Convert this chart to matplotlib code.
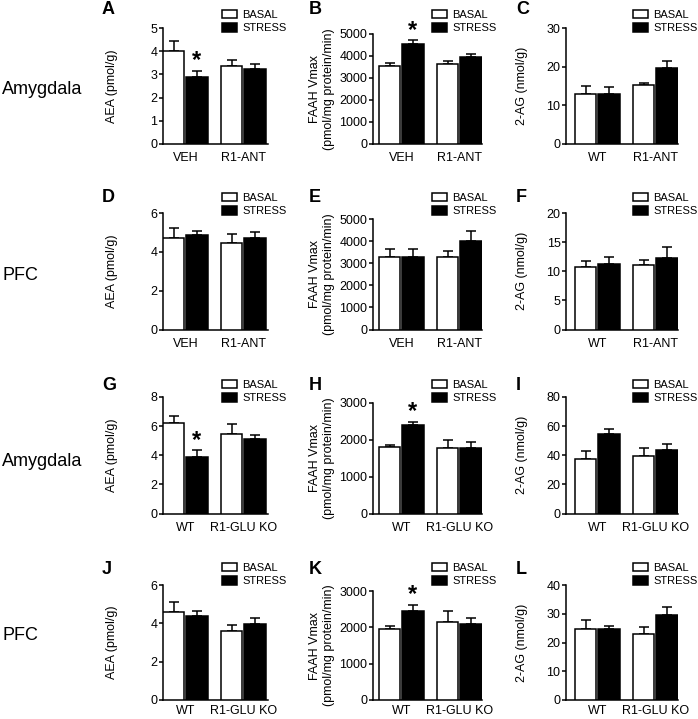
import matplotlib.pyplot as plt
import numpy as np

plt.rcParams["font.family"] = ["Liberation Sans", "DejaVu Sans"]

# ---- data ----
letters = ["A", "B", "C", "D", "E", "F", "G", "H", "I", "J", "K", "L"]

groups_veh = ["VEH", "R1-ANT"]
groups_ant = ["WT", "R1-ANT"]
groups_glu = ["WT", "R1-GLU KO"]

A_basal, A_basal_err = [4.0, 3.35], [0.42, 0.27]
A_stress, A_stress_err = [2.9, 3.25], [0.26, 0.18]
B_basal, B_basal_err = [3550, 3650], [140, 120]
B_stress, B_stress_err = [4550, 3950], [160, 140]
C_basal, C_basal_err = [12.9, 15.3], [2.2, 0.6]
C_stress, C_stress_err = [12.9, 19.6], [1.8, 1.9]

D_basal, D_basal_err = [4.7, 4.45], [0.52, 0.48]
D_stress, D_stress_err = [4.85, 4.73], [0.2, 0.29]
E_basal, E_basal_err = [3300, 3270], [330, 290]
E_stress, E_stress_err = [3260, 4000], [380, 450]
F_basal, F_basal_err = [10.7, 11.0], [1.1, 1.0]
F_stress, F_stress_err = [11.3, 12.3], [1.2, 1.85]

G_basal, G_basal_err = [6.22, 5.46], [0.48, 0.7]
G_stress, G_stress_err = [3.89, 5.1], [0.45, 0.32]
H_basal, H_basal_err = [1810, 1790], [45, 200]
H_stress, H_stress_err = [2400, 1780], [90, 150]
I_basal, I_basal_err = [37.5, 39.5], [5.7, 5.8]
I_stress, I_stress_err = [54.9, 43.7], [2.8, 3.9]

J_basal, J_basal_err = [4.57, 3.62], [0.52, 0.31]
J_stress, J_stress_err = [4.39, 3.98], [0.26, 0.29]
K_basal, K_basal_err = [1963, 2147], [75, 300]
K_stress, K_stress_err = [2450, 2083], [165, 183]
L_basal, L_basal_err = [24.55, 22.9], [3.45, 2.5]
L_stress, L_stress_err = [24.55, 29.7], [1.15, 2.5]

basal = [A_basal, B_basal, C_basal, D_basal, E_basal, F_basal,
         G_basal, H_basal, I_basal, J_basal, K_basal, L_basal]
basal_err = [A_basal_err, B_basal_err, C_basal_err, D_basal_err, E_basal_err, F_basal_err,
             G_basal_err, H_basal_err, I_basal_err, J_basal_err, K_basal_err, L_basal_err]
stress = [A_stress, B_stress, C_stress, D_stress, E_stress, F_stress,
          G_stress, H_stress, I_stress, J_stress, K_stress, L_stress]
stress_err = [A_stress_err, B_stress_err, C_stress_err, D_stress_err, E_stress_err, F_stress_err,
              G_stress_err, H_stress_err, I_stress_err, J_stress_err, K_stress_err, L_stress_err]

group_labels = [groups_veh, groups_veh, groups_ant,
                groups_veh, groups_veh, groups_ant,
                groups_glu, groups_glu, groups_glu,
                groups_glu, groups_glu, groups_glu]

ylabels = ["AEA (pmol/g)", "FAAH Vmax\n(pmol/mg protein/min)", "2-AG (nmol/g)"]
ymax = [5, 5000, 30, 6, 5000, 20, 8, 3000, 80, 6, 3000, 40]
ystep = [1, 1000, 10, 2, 1000, 5, 2, 1000, 20, 2, 1000, 10]
starred = ["A", "B", "G", "H", "K"]
regions = ["Amygdala", "PFC", "Amygdala", "PFC"]

# ---- layout in pixels ----
W, H = 698, 719
ppu = 58
col_left = [163, 373, 566]
pad_l = [0, 6, 9]
pad_r = [2, 0, 0]
row_top = [28, 213, 397, 585]
row_bot = [144, 329.5, 513.5, 700]
col_top_shift = [0, 6, 0]
ylab_dx = [51, 51, 44]
letter_x = [102, 309, 516]
letter_y = [9, 198, 385, 570]
legend_dx = [59, 59, 67]
legend_top = [10, 193, 380, 563]
region_y = [89, 276, 461, 635]
xpad = [6, 6, 6, 3.5]

fig = plt.figure(figsize=(W / 100, H / 100), dpi=100)

bw = 0.37
off = 0.2
x = np.arange(2)

for i, letter in enumerate(letters):
    r, c = divmod(i, 3)
    x0 = -off - bw / 2 - pad_l[c] / ppu
    x1 = 1 + off + bw / 2 + pad_r[c] / ppu
    wpx = (x1 - x0) * ppu
    top = row_top[r] + col_top_shift[c]
    hpx = row_bot[r] - top
    ax = fig.add_axes([col_left[c] / W, 1 - row_bot[r] / H, wpx / W, hpx / H])

    b1 = ax.bar(x - off, basal[i], bw, color="white", edgecolor="black",
                linewidth=1.1, label="BASAL", zorder=3)
    b2 = ax.bar(x + off, stress[i], bw, color="black", edgecolor="black",
                linewidth=1.1, label="STRESS", zorder=3)
    ax.errorbar(x - off, basal[i], yerr=[np.zeros(2), basal_err[i]], fmt="none",
                ecolor="black", elinewidth=1.1, capsize=3.5, capthick=1.1, zorder=2)
    ax.errorbar(x + off, stress[i], yerr=[np.zeros(2), stress_err[i]], fmt="none",
                ecolor="black", elinewidth=1.1, capsize=3.5, capthick=1.1, zorder=2)

    if letter in starred:
        ax.annotate("*", xy=(off, stress[i][0] + stress_err[i][0]), xytext=(0, -1),
                    textcoords="offset points", ha="center", va="bottom",
                    fontsize=17, fontweight="bold")

    ax.set_xlim(x0, x1)
    ax.set_ylim(0, ymax[i])
    ax.set_yticks(np.arange(0, ymax[i] + ystep[i] / 2, ystep[i]))
    ax.set_xticks(x)
    ax.set_xticklabels(group_labels[i])
    for s in ["top", "right"]:
        ax.spines[s].set_visible(False)
    for s in ["left", "bottom"]:
        ax.spines[s].set_linewidth(1.1)
    ax.tick_params(axis="y", direction="out", length=3, width=1.1, labelsize=9, pad=1)
    ax.tick_params(axis="x", length=0, labelsize=9, pad=xpad[r])
    ax.set_ylabel(ylabels[c], fontsize=9, va="center", ha="center")
    ax.yaxis.set_label_coords(-ylab_dx[c] / wpx, 0.5)

    ax.legend(handles=[b1, b2], loc="upper left",
              bbox_to_anchor=((col_left[c] + legend_dx[c]) / W, 1 - legend_top[r] / H),
              bbox_transform=fig.transFigure, frameon=False, borderpad=0,
              borderaxespad=0, handlelength=1.35, handleheight=0.75,
              handletextpad=0.5, labelspacing=0.3, fontsize=8)

    fig.text(letter_x[c] / W, 1 - letter_y[r] / H, letter, fontsize=13,
             fontweight="bold", ha="left", va="center")

for r, name in enumerate(regions):
    fig.text(2 / W, 1 - region_y[r] / H, name, fontsize=13, ha="left", va="center")

fig.savefig("out.png", dpi=100)
